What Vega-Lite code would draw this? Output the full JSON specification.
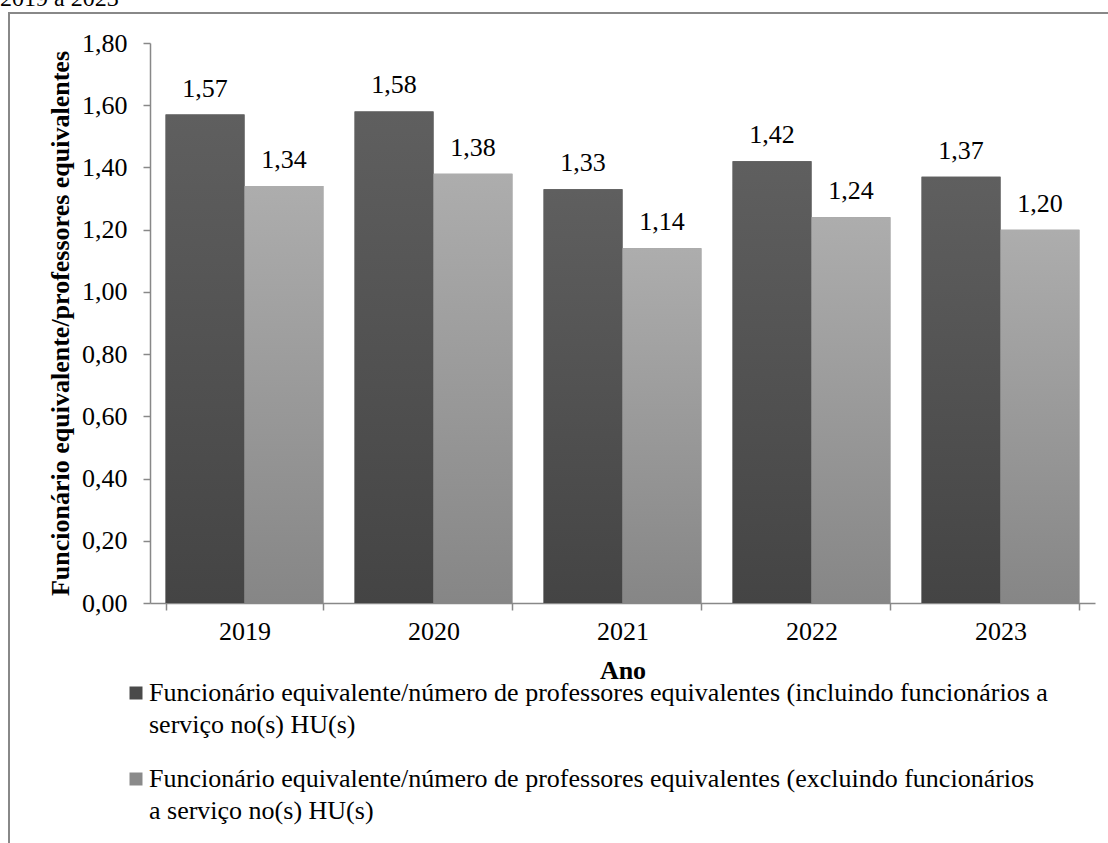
{
  "$schema": "https://vega.github.io/schema/vega-lite/v6.json",
  "autosize": "none",
  "width": 1110,
  "height": 840,
  "padding": {"left": 9, "top": 13, "right": 0, "bottom": 0},
  "background": "white",
  "title": {
    "text": "2019 a 2023",
    "anchor": "start",
    "frame": "group",
    "orient": "top",
    "baseline": "alphabetic",
    "offset": -17,
    "dx": -9,
    "font": "Liberation Serif",
    "fontSize": 24,
    "fontWeight": "normal",
    "color": "black"
  },
  "config": {
    "locale": {"number": {"decimal": ",", "thousands": ".", "grouping": [3], "currency": ["R$", ""]}},
    "view": {"stroke": "#888888", "strokeWidth": 2},
    "style": {"guide-label": {"lineHeight": 32}},
    "axis": {
      "labelFont": "Liberation Serif",
      "labelFontSize": 26,
      "labelColor": "black",
      "titleFont": "Liberation Serif",
      "titleFontSize": 26,
      "titleFontWeight": "bold",
      "titleColor": "black",
      "domainColor": "#888888",
      "domainWidth": 1.5,
      "tickColor": "#888888",
      "tickWidth": 1.5,
      "grid": false
    },
    "legend": {
      "labelFont": "Liberation Serif",
      "labelFontSize": 26,
      "labelColor": "black"
    }
  },
  "data": {
    "values": [
      {"ano": "2019", "serie": "incl", "valor": 1.57},
      {"ano": "2019", "serie": "excl", "valor": 1.34},
      {"ano": "2020", "serie": "incl", "valor": 1.58},
      {"ano": "2020", "serie": "excl", "valor": 1.38},
      {"ano": "2021", "serie": "incl", "valor": 1.33},
      {"ano": "2021", "serie": "excl", "valor": 1.14},
      {"ano": "2022", "serie": "incl", "valor": 1.42},
      {"ano": "2022", "serie": "excl", "valor": 1.24},
      {"ano": "2023", "serie": "incl", "valor": 1.37},
      {"ano": "2023", "serie": "excl", "valor": 1.20}
    ]
  },
  "encoding": {
    "x": {
      "field": "ano",
      "type": "nominal",
      "scale": {"range": [141, 1086], "paddingInner": 0.165, "paddingOuter": 0.0825},
      "axis": {
        "title": "Ano",
        "labelAngle": 0,
        "offset": -250,
        "tickBand": "extent",
        "tickSize": 7,
        "labelPadding": 8,
        "titleY": 75,
        "titleBaseline": "alphabetic"
      }
    },
    "xOffset": {"field": "serie", "type": "nominal", "scale": {"domain": ["incl", "excl"]}},
    "y": {
      "field": "valor",
      "type": "quantitative",
      "scale": {"domain": [0, 1.8], "nice": false, "range": [590, 30]},
      "axis": {
        "title": "Funcionário equivalente/professores equivalentes",
        "values": [0, 0.2, 0.4, 0.6, 0.8, 1.0, 1.2, 1.4, 1.6, 1.8],
        "format": ".2f",
        "offset": -141,
        "tickSize": 7,
        "labelPadding": 16,
        "titlePadding": 8
      }
    }
  },
  "layer": [
    {
      "mark": {"type": "bar"},
      "encoding": {
        "color": {
          "field": "serie",
          "type": "nominal",
          "scale": {"domain": ["incl", "excl"], "range": ["#4a4a4a", "#8a8a8a"]},
          "legend": {
            "title": null,
            "orient": "none",
            "legendX": 114,
            "legendY": 667,
            "symbolType": "square",
            "symbolSize": 169,
            "symbolStrokeWidth": 0,
            "labelOffset": 0,
            "labelLimit": 0,
            "labelBaseline": "middle",
            "rowPadding": 28,
            "labelExpr": "datum.value == 'incl' ? ['Funcionário equivalente/número de professores equivalentes (incluindo funcionários a', 'serviço no(s) HU(s)'] : ['Funcionário equivalente/número de professores equivalentes (excluindo funcionários', 'a serviço no(s) HU(s)']"
          }
        }
      }
    },
    {
      "transform": [{"filter": "datum.serie == 'incl'"}],
      "mark": {
        "type": "bar",
        "color": {"gradient": "linear", "x1": 0, "y1": 0, "x2": 0, "y2": 1, "stops": [{"offset": 0, "color": "#5f5f5f"}, {"offset": 1, "color": "#444444"}]}
      },
      "encoding": {}
    },
    {
      "transform": [{"filter": "datum.serie == 'excl'"}],
      "mark": {
        "type": "bar",
        "color": {"gradient": "linear", "x1": 0, "y1": 0, "x2": 0, "y2": 1, "stops": [{"offset": 0, "color": "#adadad"}, {"offset": 1, "color": "#868686"}]}
      },
      "encoding": {}
    },
    {
      "mark": {"type": "text", "baseline": "alphabetic", "dy": -18, "font": "Liberation Serif", "fontSize": 26, "color": "black"},
      "encoding": {
        "text": {"field": "valor", "type": "quantitative", "format": ".2f"}
      }
    }
  ]
}
